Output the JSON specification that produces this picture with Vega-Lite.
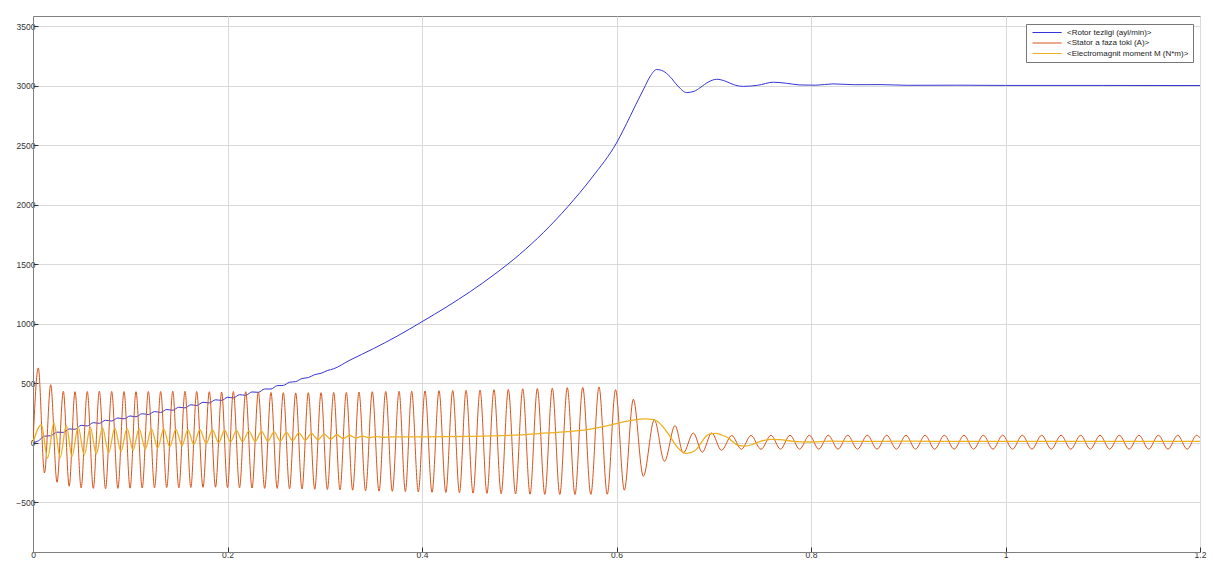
{
"$schema": "https://vega.github.io/schema/vega-lite/v6.json",
"width": 1167,
"height": 536,
"autosize": "none",
"padding": {"left": 33, "top": 16, "right": 13, "bottom": 10},
"background": "white",
"config": {
  "view": {"stroke": "#7f7f7f", "strokeWidth": 1},
  "axis": {"labelFont": "Liberation Sans", "labelFontSize": 8.5, "labelColor": "#333333", "gridColor": "#d9d9d9", "gridWidth": 1, "domainColor": "#7f7f7f", "tickColor": "#333333", "tickSize": -5, "labelPadding": 3, "title": null}
},
"datasets": {
"spd": [
{"t":0,"v":0},{"t":0.00545,"v":14},{"t":0.0118,"v":54},{"t":0.0182,"v":58},{"t":0.0247,"v":88},{"t":0.0312,"v":86},{"t":0.0372,"v":115},{"t":0.0432,"v":112},{"t":0.0495,"v":145},{"t":0.0558,"v":140},{"t":0.062,"v":168},{"t":0.0682,"v":162},{"t":0.0746,"v":188},{"t":0.0809,"v":182},{"t":0.0873,"v":207},{"t":0.0936,"v":200},{"t":0.0998,"v":224},{"t":0.1059,"v":217},{"t":0.1123,"v":243},{"t":0.1186,"v":236},{"t":0.125,"v":261},{"t":0.1313,"v":254},{"t":0.1375,"v":279},{"t":0.1437,"v":272},{"t":0.15,"v":298},{"t":0.1563,"v":292},{"t":0.1623,"v":318},{"t":0.1683,"v":312},{"t":0.1748,"v":339},{"t":0.1813,"v":334},{"t":0.1877,"v":360},{"t":0.194,"v":355},{"t":0.2,"v":381},{"t":0.206,"v":376},{"t":0.2124,"v":403},{"t":0.2187,"v":398},{"t":0.2252,"v":426},{"t":0.2317,"v":423},{"t":0.2382,"v":451},{"t":0.2447,"v":451},{"t":0.2511,"v":479},{"t":0.2574,"v":481},{"t":0.2638,"v":508},{"t":0.2701,"v":513},{"t":0.2766,"v":539},{"t":0.2831,"v":547},{"t":0.2897,"v":572},{"t":0.2962,"v":583},{"t":0.3027,"v":606},{"t":0.3092,"v":621},
{"t":0.325,"v":690},{"t":0.35,"v":790},{"t":0.375,"v":898},{"t":0.4,"v":1017},{"t":0.425,"v":1140},{"t":0.45,"v":1272},{"t":0.475,"v":1418},{"t":0.5,"v":1580},{"t":0.525,"v":1768},{"t":0.55,"v":1985},{"t":0.575,"v":2232},{"t":0.6,"v":2520},{"t":0.6139,"v":2742},{"t":0.62,"v":2845},{"t":0.628,"v":2975},{"t":0.635,"v":3085},{"t":0.6413,"v":3138},{"t":0.648,"v":3125},{"t":0.655,"v":3078},{"t":0.663,"v":3000},{"t":0.6722,"v":2944},{"t":0.68,"v":2955},{"t":0.6859,"v":2985},{"t":0.695,"v":3035},{"t":0.7031,"v":3056},{"t":0.712,"v":3040},{"t":0.72,"v":3012},{"t":0.7304,"v":2996},{"t":0.745,"v":3005},{"t":0.7613,"v":3031},{"t":0.775,"v":3022},{"t":0.7887,"v":3008},{"t":0.805,"v":3006},{"t":0.8227,"v":3017},{"t":0.845,"v":3010},{"t":0.871,"v":3011},{"t":0.9,"v":3005},{"t":0.95,"v":3006},{"t":1.0,"v":3004},{"t":1.1,"v":3004},{"t":1.2,"v":3003}
],
"cur": [
{"t":0,"v":0},{"t":0.00545,"v":628},{"t":0.0118,"v":-255},{"t":0.0182,"v":487},{"t":0.0247,"v":-333},{"t":0.0312,"v":431},{"t":0.0372,"v":-367},{"t":0.0432,"v":428},{"t":0.0495,"v":-381},{"t":0.0558,"v":430},{"t":0.062,"v":-385},{"t":0.0682,"v":432},{"t":0.0746,"v":-388},{"t":0.0809,"v":430},{"t":0.0873,"v":-385},{"t":0.0936,"v":430},{"t":0.0998,"v":-383},{"t":0.1059,"v":428},{"t":0.1123,"v":-382},{"t":0.1186,"v":430},{"t":0.125,"v":-380},{"t":0.1313,"v":430},{"t":0.1375,"v":-378},{"t":0.1437,"v":432},{"t":0.15,"v":-380},{"t":0.1563,"v":432},{"t":0.1623,"v":-378},{"t":0.1683,"v":430},{"t":0.1748,"v":-376},{"t":0.1813,"v":428},{"t":0.1877,"v":-375},{"t":0.194,"v":425},{"t":0.2,"v":-378},{"t":0.206,"v":430},{"t":0.2124,"v":-380},{"t":0.2187,"v":428},{"t":0.2252,"v":-382},{"t":0.2317,"v":425},{"t":0.2382,"v":-385},{"t":0.2447,"v":422},{"t":0.2511,"v":-385},{"t":0.2574,"v":420},{"t":0.2638,"v":-388},{"t":0.2701,"v":418},{"t":0.2766,"v":-390},{"t":0.2831,"v":420},{"t":0.2897,"v":-392},{"t":0.2962,"v":420},{"t":0.3027,"v":-395},{"t":0.3092,"v":422},{"t":0.3157,"v":-398},{"t":0.3222,"v":422},{"t":0.3287,"v":-400},{"t":0.3352,"v":425},{"t":0.342,"v":-405},{"t":0.3489,"v":428},{"t":0.3558,"v":-408},{"t":0.3627,"v":430},{"t":0.3695,"v":-410},{"t":0.3764,"v":432},{"t":0.3829,"v":-412},{"t":0.3894,"v":432},{"t":0.3962,"v":-415},{"t":0.4031,"v":435},{"t":0.4103,"v":-418},{"t":0.4175,"v":437},{"t":0.4245,"v":-420},{"t":0.4316,"v":438},{"t":0.4385,"v":-422},{"t":0.4453,"v":440},{"t":0.4525,"v":-425},{"t":0.4597,"v":442},{"t":0.4668,"v":-427},{"t":0.474,"v":445},{"t":0.4814,"v":-430},{"t":0.4888,"v":448},{"t":0.4962,"v":-432},{"t":0.5036,"v":452},{"t":0.5111,"v":-434},{"t":0.5186,"v":455},{"t":0.5263,"v":-436},{"t":0.534,"v":458},{"t":0.5417,"v":-437},{"t":0.5494,"v":462},{"t":0.5573,"v":-437},{"t":0.5653,"v":465},{"t":0.5736,"v":-436},{"t":0.582,"v":468},{"t":0.5905,"v":-434},{"t":0.599,"v":445},{"t":0.6081,"v":-400},{"t":0.6173,"v":365},{"t":0.6276,"v":-283},{"t":0.6389,"v":193},{"t":0.6493,"v":-157},{"t":0.6602,"v":143},{"t":0.6687,"v":-87},{"t":0.679,"v":81},{"t":0.6882,"v":-81},{"t":0.6979,"v":81},{"t":0.708,"v":-65},{"t":0.7185,"v":60},{"t":0.7284,"v":-56},{"t":0.7383,"v":60},{"t":0.7486,"v":-56},{"t":0.7589,"v":62},{"t":0.7686,"v":-55},{"t":0.7784,"v":62},{"t":0.7883,"v":-55},{"t":0.7983,"v":62},{"t":0.808,"v":-55},{"t":0.8178,"v":62},{"t":0.8278,"v":-55},{"t":0.8378,"v":62},{"t":0.8478,"v":-55},{"t":0.8579,"v":62},{"t":0.8679,"v":-55},{"t":0.8779,"v":62},{"t":0.8878,"v":-55},{"t":0.8977,"v":62},{"t":0.9075,"v":-55},{"t":0.9173,"v":62},{"t":0.9272,"v":-55},{"t":0.9371,"v":62},{"t":0.9472,"v":-55},{"t":0.9573,"v":62},{"t":0.9672,"v":-55},{"t":0.9772,"v":62},{"t":0.9871,"v":-55},{"t":0.9971,"v":62},{"t":1.0072,"v":-55},{"t":1.0173,"v":62},{"t":1.0272,"v":-55},{"t":1.0372,"v":62},{"t":1.0471,"v":-55},{"t":1.0571,"v":62},{"t":1.0672,"v":-55},{"t":1.0773,"v":62},{"t":1.0872,"v":-55},{"t":1.0972,"v":62},{"t":1.1071,"v":-55},{"t":1.117,"v":62},{"t":1.1271,"v":-55},{"t":1.1373,"v":62},{"t":1.1472,"v":-55},{"t":1.1572,"v":62},{"t":1.1671,"v":-55},{"t":1.1771,"v":62},{"t":1.1868,"v":-55},{"t":1.1966,"v":62},{"t":1.2,"v":40}
],
"trq": [
{"t":0,"v":0},{"t":0.0086,"v":150},{"t":0.015,"v":-130},{"t":0.0215,"v":165},{"t":0.028,"v":-125},{"t":0.0342,"v":145},{"t":0.0402,"v":-115},{"t":0.0464,"v":135},{"t":0.0527,"v":-105},{"t":0.0589,"v":128},{"t":0.0651,"v":-95},{"t":0.0714,"v":125},{"t":0.0778,"v":-85},{"t":0.0841,"v":122},{"t":0.0905,"v":-75},{"t":0.0967,"v":120},{"t":0.1029,"v":-65},{"t":0.1091,"v":118},{"t":0.1155,"v":-55},{"t":0.1218,"v":116},{"t":0.1282,"v":-45},{"t":0.1344,"v":114},{"t":0.1406,"v":-35},{"t":0.1469,"v":112},{"t":0.1532,"v":-25},{"t":0.1593,"v":110},{"t":0.1653,"v":-15},{"t":0.1716,"v":108},{"t":0.1781,"v":-8},{"t":0.1845,"v":106},{"t":0.1909,"v":0},{"t":0.197,"v":104},{"t":0.203,"v":5},{"t":0.2092,"v":100},{"t":0.2156,"v":8},{"t":0.222,"v":97},{"t":0.2285,"v":10},{"t":0.235,"v":94},{"t":0.2415,"v":12},{"t":0.2479,"v":90},{"t":0.2543,"v":14},{"t":0.2606,"v":86},{"t":0.267,"v":16},{"t":0.2734,"v":82},{"t":0.2799,"v":20},{"t":0.2864,"v":77},{"t":0.293,"v":24},{"t":0.2995,"v":72},{"t":0.306,"v":28},{"t":0.3125,"v":66},{"t":0.319,"v":33},{"t":0.3255,"v":60},{"t":0.332,"v":38},{"t":0.3386,"v":55},{"t":0.3455,"v":42},{"t":0.3524,"v":51},{"t":0.3593,"v":45},
{"t":0.37,"v":48},{"t":0.4,"v":48},{"t":0.45,"v":52},{"t":0.5,"v":65},{"t":0.52,"v":76},{"t":0.55,"v":92},{"t":0.57,"v":109},{"t":0.59,"v":140},{"t":0.605,"v":170},{"t":0.617,"v":190},{"t":0.63,"v":199},{"t":0.637,"v":195},{"t":0.642,"v":180},{"t":0.648,"v":130},{"t":0.655,"v":53},{"t":0.66,"v":-10},{"t":0.665,"v":-59},{"t":0.671,"v":-90},{"t":0.676,"v":-85},{"t":0.682,"v":-59},{"t":0.688,"v":10},{"t":0.692,"v":53},{"t":0.697,"v":75},{"t":0.702,"v":78},{"t":0.708,"v":65},{"t":0.715,"v":39},{"t":0.72,"v":5},{"t":0.725,"v":-22},{"t":0.732,"v":-30},{"t":0.74,"v":-15},{"t":0.748,"v":11},{"t":0.758,"v":28},{"t":0.768,"v":25},{"t":0.782,"v":11},{"t":0.8,"v":5},{"t":0.82,"v":12},{"t":0.85,"v":10},{"t":0.9,"v":12},{"t":0.95,"v":10},{"t":1.0,"v":11},{"t":1.05,"v":10},{"t":1.1,"v":11},{"t":1.15,"v":10},{"t":1.2,"v":10}
]
},
"encoding": {
  "x": {"field": "t", "type": "quantitative", "scale": {"domain": [0, 1.2], "nice": false, "zero": false}, "axis": {"values": [0, 0.2, 0.4, 0.6, 0.8, 1, 1.2], "format": "~g", "grid": true, "labelFlush": false}},
  "y": {"field": "v", "type": "quantitative", "scale": {"domain": [-920, 3588], "nice": false, "zero": false}, "axis": {"values": [-500, 0, 500, 1000, 1500, 2000, 2500, 3000, 3500], "format": "d", "grid": true}}
},
"layer": [
  {"data": {"name": "spd"}, "mark": {"type": "line", "strokeWidth": 1, "interpolate": "monotone", "clip": true},
   "encoding": {"color": {"datum": "<Rotor tezligi (ayl/min)>", "scale": {"domain": ["<Rotor tezligi (ayl/min)>", "<Stator a faza toki (A)>", "<Electromagnit moment M (N*m)>"], "range": ["#3535d6", "#D95319", "#EDB120"]},
     "legend": {"title": null, "orient": "none", "legendX": 993, "legendY": 8, "direction": "vertical", "symbolType": "M-6.5,0H0.8", "symbolSize": 64, "symbolOffset": 24, "symbolStrokeWidth": 1, "labelFont": "Liberation Sans", "labelFontSize": 8, "labelColor": "#222222", "labelOffset": 4, "rowPadding": 1.5, "padding": 4, "strokeColor": "#777777", "fillColor": "white", "labelLimit": 300}}}},
  {"data": {"name": "cur"}, "mark": {"type": "line", "strokeWidth": 1, "interpolate": "monotone", "clip": true},
   "encoding": {"color": {"datum": "<Stator a faza toki (A)>"}}},
  {"data": {"name": "trq"}, "mark": {"type": "line", "strokeWidth": 1.3, "interpolate": "monotone", "clip": true},
   "encoding": {"color": {"datum": "<Electromagnit moment M (N*m)>"}}}
]
}
